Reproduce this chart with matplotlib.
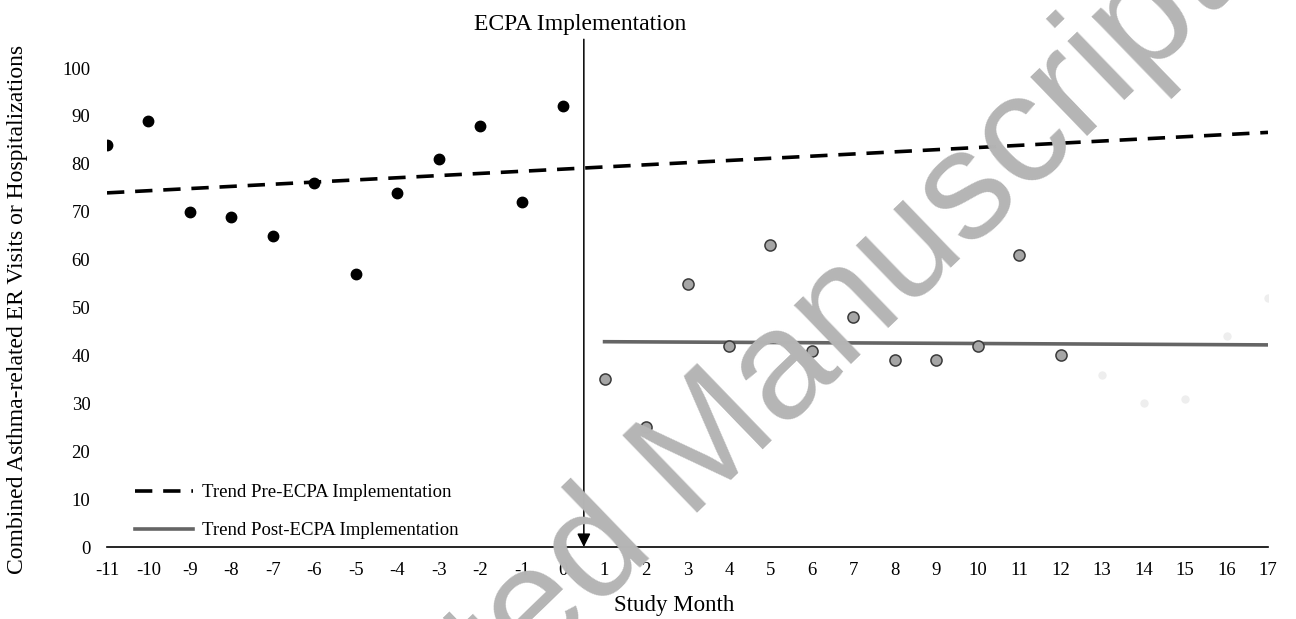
import numpy as np
import matplotlib
matplotlib.use('Agg')
import matplotlib.pyplot as plt

# Données
mois_pre = [-11, -10, -9, -8, -7, -6, -5, -4, -3, -2, -1, 0]
visites_pre = [84, 89, 70, 69, 65, 76, 57, 74, 81, 88, 72, 92]

mois_post = [1, 2, 3, 4, 5, 6, 7, 8, 9, 10, 11, 12]
visites_post = [35, 25, 55, 42, 63, 41, 48, 39, 39, 42, 61, 40]

# mois 13-17 presque effacés sur l'image (à peine visibles)
mois_post_caches = [13, 14, 15, 16, 17]
visites_post_caches = [36, 30, 31, 44, 52]

mois_ticks = list(range(-11, 18))
y_ticks = list(range(0, 101, 10))

plt.rcParams['font.family'] = ['Liberation Serif', 'DejaVu Serif']
plt.rcParams['axes.unicode_minus'] = False

fig = plt.figure(figsize=(12.96, 6.19), dpi=100)
ax = fig.add_axes([107 / 1296, 1 - 547 / 619, 1161 / 1296, 507.7 / 619])

# Tendances (régressions linéaires)
a_pre, b_pre = np.polyfit(mois_pre, visites_pre, 1)
x_pre = np.array([mois_ticks[0], mois_ticks[-1]])
ax.plot(x_pre, a_pre * x_pre + b_pre, color='black', lw=2.6, dashes=(4.8, 3.0),
        label='Trend Pre-ECPA Implementation', zorder=2)

tous_mois_post = mois_post + mois_post_caches
toutes_visites_post = visites_post + visites_post_caches
a_post, b_post = np.polyfit(tous_mois_post, toutes_visites_post, 1)
x_post = np.array([1, mois_ticks[-1]])
ax.plot(x_post, a_post * x_post + b_post, color='#656565', lw=2.6,
        label='Trend Post-ECPA Implementation', zorder=2)

# Points
ax.plot(mois_pre, visites_pre, 'o', color='black', ms=7.5, zorder=3)
ax.plot(mois_post, visites_post, 'o', mfc='#a6a6a6', mec='#3a3a3a', mew=1.1, ms=8, zorder=3)
ax.plot(mois_post_caches, visites_post_caches, 'o', color='#eeeeee', ms=5, zorder=1)

ax.set_xlim(-11, 17)
ax.set_ylim(0, 106)
ax.set_xticks(mois_ticks)
ax.set_yticks(y_ticks)
ax.tick_params(length=0, labelsize=13.5)
ax.tick_params(axis='y', pad=12)
ax.tick_params(axis='x', pad=11)
for s in ['top', 'right', 'left']:
    ax.spines[s].set_visible(False)
ax.spines['bottom'].set_linewidth(1.2)

# Ligne de mise en place + flèche
ax.annotate('', xy=(0.5, 0), xytext=(0.5, 106),
            arrowprops=dict(arrowstyle='-|>', color='black', lw=1.1, mutation_scale=20,
                            shrinkA=0, shrinkB=0), annotation_clip=False, zorder=4)
ax.text(0.4, 107, 'ECPA Implementation', ha='center', va='bottom', fontsize=17)

ax.set_xlabel('Study Month', fontsize=16.5)
ax.xaxis.set_label_coords((674 - 107) / 1161, -0.095)
ax.set_ylabel('Combined Asthma-related ER Visits or Hospitalizations', fontsize=17)
ax.yaxis.set_label_coords(-0.068, 0.467)

ax.legend(loc='lower left', bbox_to_anchor=(0.010, -0.018), frameon=False, fontsize=13.5,
          handlelength=3.05, handletextpad=0.5, labelspacing=1.12)

# Filigrane
fig.text(713 / 1296, 1 - 497 / 619, 'Accepted Manuscript', fontsize=112, color='#b5b5b5',
         family='Liberation Sans', rotation=44, ha='center', va='baseline',
         rotation_mode='anchor', zorder=10)

fig.savefig('out.png', dpi=100)
